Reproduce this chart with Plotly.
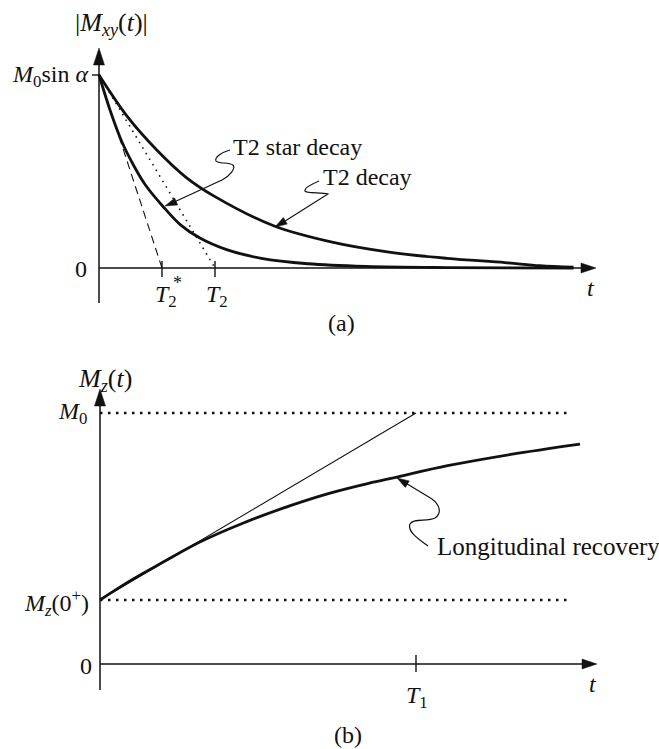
import plotly.graph_objects as go

W, H = 659, 749
SPLIT = 360  # pixel row separating the two panels

# ---------------- data ----------------
# Panel (a): time in units of T2, amplitude in units of M0*sin(alpha)
T2_STAR = 0.543
T2 = 1.0
t2_times = [0, 0.25, 0.5, 0.75, 1.0, 1.5, 2.0, 2.5, 3.0, 3.5, 3.8, 4.09]
t2_decay = [1.0, 0.78, 0.61, 0.47, 0.37, 0.22, 0.135, 0.082, 0.05, 0.028, 0.012, 0.004]
t2s_times = [0, 0.1, 0.2, 0.3, 0.4, 0.55, 0.7, 0.87, 1.1, 1.4, 1.8, 2.3, 3.0, 4.09]
t2s_decay = [1.0, 0.81, 0.65, 0.53, 0.43, 0.32, 0.225, 0.155, 0.095, 0.05, 0.022, 0.008, 0.002, 0.0]

# Panel (b): time in units of T1, magnetisation in units of M0
T1 = 1.0
M0 = 1.0
MZ0 = 0.255
rec_times = [0, 0.1, 0.2, 0.316, 0.45, 0.6, 0.728, 0.85, 0.94, 1.1, 1.3, 1.519]
rec_vals = [0.255, 0.335, 0.406, 0.486, 0.56, 0.63, 0.681, 0.72, 0.745, 0.79, 0.835, 0.876]

# ---------------- geometry (pixel frame of each panel) ----------------
AX0, AY0, ASX, ASY = 99, 268, 116, 193     # panel a: origin px, px per unit
BX0, BY0, BSX, BSY = 100, 664, 316, 251    # panel b


def a_xy(px, py):
    return (px - AX0) / ASX, (AY0 - py) / ASY


def b_xy(px, py):
    return (px - BX0) / BSX, (BY0 - py) / BSY


def paper(px, py):
    return px / W, 1 - py / H


INK = "#111111"
FONT = "Liberation Serif"

fig = go.Figure()

# curves
fig.add_trace(go.Scatter(x=t2_times, y=t2_decay, mode="lines",
                         line=dict(color=INK, width=2.8, shape="spline"),
                         xaxis="x", yaxis="y", hoverinfo="skip"))
fig.add_trace(go.Scatter(x=t2s_times, y=t2s_decay, mode="lines",
                         line=dict(color=INK, width=2.8, shape="spline"),
                         xaxis="x", yaxis="y", hoverinfo="skip"))
# tangents panel a
fig.add_trace(go.Scatter(x=[0, T2], y=[1, 0], mode="lines",
                         line=dict(color=INK, width=1.6, dash="1.5px,5px"),
                         xaxis="x", yaxis="y", hoverinfo="skip"))
fig.add_trace(go.Scatter(x=[0, T2_STAR], y=[1, 0], mode="lines",
                         line=dict(color=INK, width=1.1, dash="8px,5px"),
                         xaxis="x", yaxis="y", hoverinfo="skip"))

# panel b
fig.add_trace(go.Scatter(x=rec_times, y=rec_vals, mode="lines",
                         line=dict(color=INK, width=2.8, shape="spline"),
                         xaxis="x2", yaxis="y2", hoverinfo="skip"))
fig.add_trace(go.Scatter(x=[0, T1], y=[MZ0, M0], mode="lines",
                         line=dict(color=INK, width=1.1),
                         xaxis="x2", yaxis="y2", hoverinfo="skip"))
dot_end = b_xy(570, 0)[0]
for lvl in (M0, MZ0):
    fig.add_trace(go.Scatter(x=[0, dot_end], y=[lvl, lvl], mode="lines",
                             line=dict(color=INK, width=2.6, dash="2.5px,5.5px"),
                             xaxis="x2", yaxis="y2", hoverinfo="skip"))

shapes = []


def line_px(p1, p2, width=1.5):
    x1, y1 = paper(*p1)
    x2, y2 = paper(*p2)
    shapes.append(dict(type="line", xref="paper", yref="paper",
                       x0=x1, y0=y1, x1=x2, y1=y2,
                       line=dict(color=INK, width=width)))


def head(tip, frm, L, hw):
    dx, dy = tip[0] - frm[0], tip[1] - frm[1]
    n = (dx * dx + dy * dy) ** 0.5
    ux, uy = dx / n, dy / n
    bx, by = tip[0] - ux * L, tip[1] - uy * L
    px_, py_ = -uy, ux
    pts = [tip, (bx + px_ * hw, by + py_ * hw), (bx - px_ * hw, by - py_ * hw)]
    pp = [paper(*p) for p in pts]
    path = "M{:.5f},{:.5f} L{:.5f},{:.5f} L{:.5f},{:.5f} Z".format(
        pp[0][0], pp[0][1], pp[1][0], pp[1][1], pp[2][0], pp[2][1])
    shapes.append(dict(type="path", xref="paper", yref="paper", path=path,
                       fillcolor=INK, line=dict(color=INK, width=0.5)))


def curve_px(cmds, width=1.2):
    out = []
    for c in cmds:
        letter, pts = c[0], c[1:]
        s = letter
        for p in pts:
            x, y = paper(*p)
            s += " {:.5f},{:.5f}".format(x, y)
        out.append(s)
    shapes.append(dict(type="path", xref="paper", yref="paper", path=" ".join(out),
                       line=dict(color=INK, width=width)))


# axes panel a
line_px((AX0, 303), (AX0, 62))
head((AX0, 48), (AX0, 70), 17, 5.5)
line_px((AX0, AY0), (585, AY0))
head((596, AY0), (570, AY0), 15, 5)
# ticks panel a
line_px((92, 75), (100, 75), 1.4)
for tv in (T2_STAR, T2):
    px = AX0 + tv * ASX
    line_px((px, 261), (px, 277), 1.4)

# axes panel b
line_px((BX0, 690), (BX0, 402))
head((BX0, 389), (BX0, 410), 17, 5.5)
line_px((BX0, BY0), (585, BY0))
head((597, BY0), (570, BY0), 15, 5)
px = BX0 + T1 * BSX
line_px((px, 655), (px, 672), 1.4)

# callouts
curve_px([("M", (230, 150)), ("C", (223, 152), (214, 157), (216, 161)),
          ("C", (218, 164), (229, 162), (233, 165)),
          ("C", (236, 168), (230, 176), (222, 180)),
          ("L", (172, 203))])
head((165, 206), (175, 202), 12, 3.8)

curve_px([("M", (319, 181)), ("C", (312, 184), (304, 188), (305, 191)),
          ("C", (306, 194), (322, 192), (328, 194)),
          ("L", (282, 223))])
head((275, 227), (285, 221), 12, 3.8)

curve_px([("M", (428, 546)), ("C", (420, 540), (407, 532), (410, 524)),
          ("C", (413, 518), (428, 522), (435, 518)),
          ("C", (442, 513), (440, 505), (432, 499)),
          ("L", (404, 482))])
head((397, 478), (407, 484), 12, 3.8)

annotations = []


def label(text, px, py, size=24, xanchor="center", yanchor="middle"):
    x, y = paper(px, py)
    annotations.append(dict(text=text, x=x, y=y, xref="paper", yref="paper",
                            xanchor=xanchor, yanchor=yanchor, showarrow=False,
                            font=dict(family=FONT, size=size, color=INK)))


label("|<i>M</i><sub><i>xy</i></sub>(<i>t</i>)|", 111, 24, size=26)
label("<i>M</i><sub>0</sub>sin <i>α</i>", 90, 76, xanchor="right")
label("0", 81, 269)
label("<i>T</i><sub>2</sub>", 166, 296)
label("*", 178, 283, size=18)
label("<i>T</i><sub>2</sub>", 217, 296)
label("<i>t</i>", 591, 288)
label("(a)", 341, 323, size=24)
label("T2 star decay", 231, 147, size=24, xanchor="left")
label("T2 decay", 321, 177, size=24, xanchor="left")

label("<i>M<sub>z</sub></i>(<i>t</i>)", 105, 380, size=26)
label("<i>M</i><sub>0</sub>", 89, 413, xanchor="right")
label("<i>M<sub>z</sub></i>(0<sup>+</sup>)", 91, 603, xanchor="right")
label("0", 86, 666)
label("<i>T</i><sub>1</sub>", 417, 697)
label("<i>t</i>", 593, 684)
label("(b)", 348, 735, size=24)
label("Longitudinal recovery", 435, 546, size=25, xanchor="left")

ya_dom = [1 - SPLIT / H, 1]
yb_dom = [0, 1 - SPLIT / H]
fig.update_layout(
    width=W, height=H, margin=dict(l=0, r=0, t=0, b=0),
    paper_bgcolor="white", plot_bgcolor="white", showlegend=False,
    xaxis=dict(domain=[0, 1], range=[-AX0 / ASX, (W - AX0) / ASX], visible=False, anchor="y"),
    yaxis=dict(domain=ya_dom, range=[(AY0 - SPLIT) / ASY, AY0 / ASY], visible=False, anchor="x"),
    xaxis2=dict(domain=[0, 1], range=[-BX0 / BSX, (W - BX0) / BSX], visible=False, anchor="y2"),
    yaxis2=dict(domain=yb_dom, range=[(BY0 - H) / BSY, (BY0 - SPLIT) / BSY], visible=False, anchor="x2"),
    shapes=shapes, annotations=annotations,
)

fig.write_html("out.html")
